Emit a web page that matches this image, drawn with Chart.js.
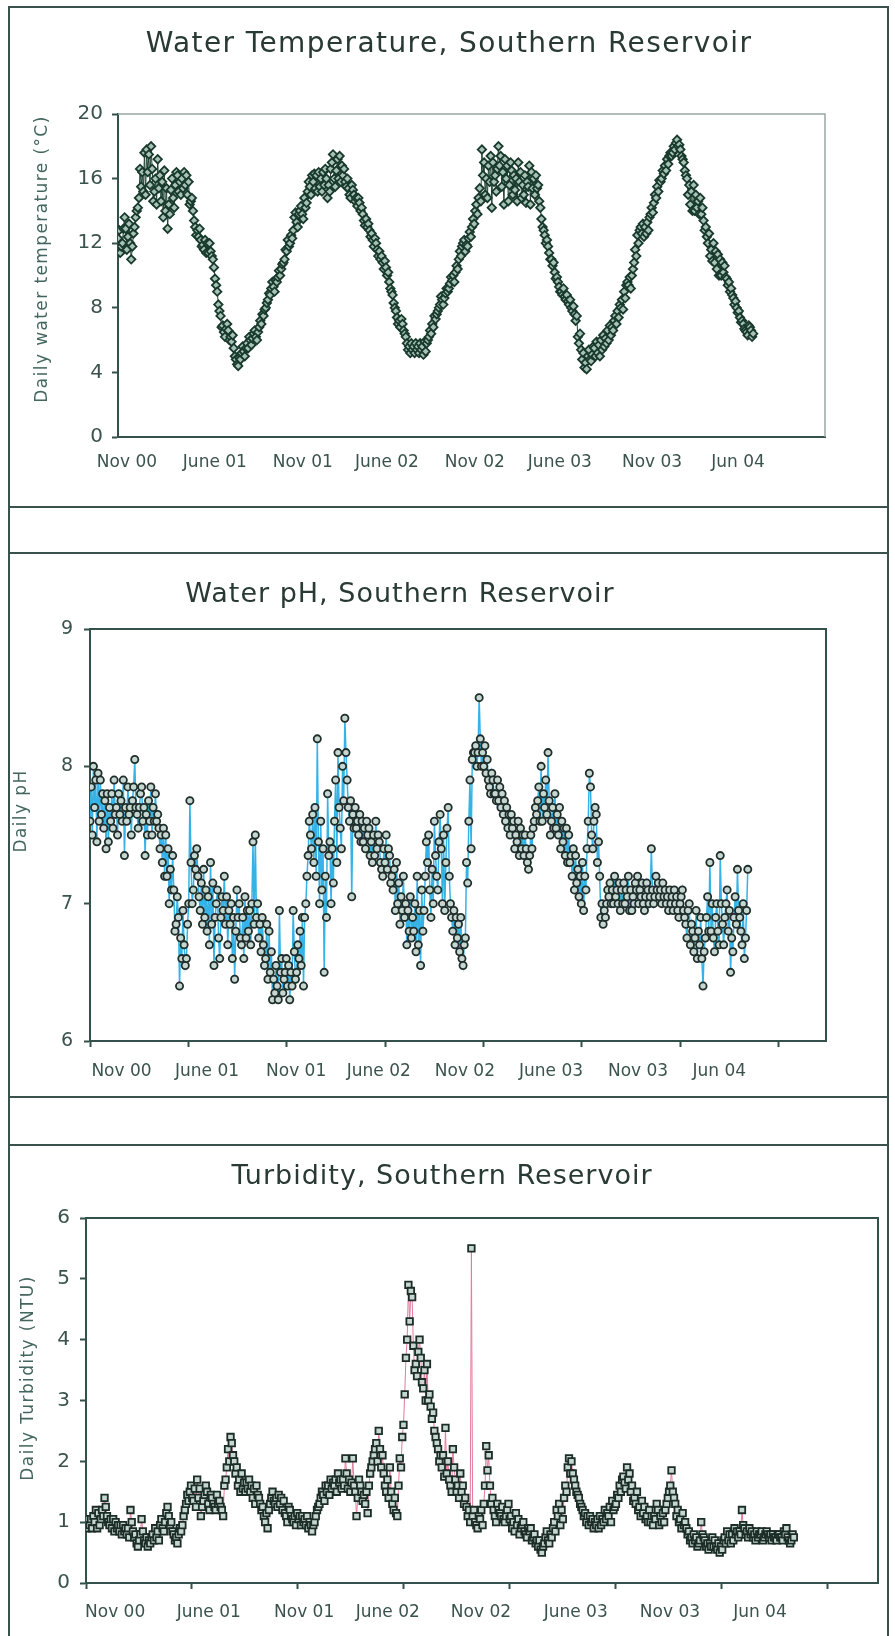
<!DOCTYPE html>
<html>
<head>
<meta charset="utf-8">
<script src="https://cdn.jsdelivr.net/npm/chart.js@4.4.1/dist/chart.umd.min.js"></script>
<style>
  html, body { margin: 0; padding: 0; background: #fff; }
  body { width: 895px; height: 1636px; position: relative; overflow: hidden; }
  .frame { position: absolute; left: 8px; top: 6px; width: 877px; height: 1650px;
           border: 2px solid #3b524c; border-bottom: none; }
  .rule { position: absolute; left: 8px; width: 881px; height: 2px; background: #3b524c; }
  canvas { position: absolute; left: 10px; }
</style>
</head>
<body>
<div class="frame"></div>
<div class="rule" style="top:506px"></div>
<div class="rule" style="top:552px"></div>
<div class="rule" style="top:1096px"></div>
<div class="rule" style="top:1144px"></div>
<canvas id="tempChart" width="877" height="497" style="top:9px"></canvas>
<canvas id="phChart" width="877" height="542" style="top:554px"></canvas>
<canvas id="turbChart" width="877" height="490" style="top:1146px"></canvas>
<script>
// THREE READINGS PER WEEK, DAY 0 = START OF NOV 2000
const DAY_STEP = 7;
const X_MAX = 1496;
const TICK_DAYS = [0, 200, 400, 600, 800, 1000, 1200, 1400];
const MONTH_LABELS = ["Nov 00", "June 01", "Nov 01", "June 02", "Nov 02", "June 03", "Nov 03", "Jun 04"];
const TEMP_LABEL_DAYS = [19, 205, 391, 569, 755, 935, 1130, 1312];
const PH_LABEL_DAYS = [64, 238, 419, 587, 762, 937, 1114, 1279];
const TURB_LABEL_DAYS = [55, 232, 412, 570, 746, 925, 1103, 1273];

const TEMP_TICKS = [0, 4, 8, 12, 16, 20];
const PH_TICKS = [6, 7, 8, 9];
const TURB_TICKS = [0, 1, 2, 3, 4, 5, 6];

// DAILY WATER TEMPERATURE (°C)
const tempWeekly = [
  12.3, 11.8, 13.6, 12.4, 11.0, 13.0, 14.2, 15.5, 17.6, 16.4,
  18.0, 15.2, 17.2, 14.6, 16.5, 12.9, 15.3, 14.2, 16.2, 15.0,
  16.4, 15.0, 14.6, 13.4, 12.8, 12.2, 11.6, 12.0, 11.5, 10.5,
  9.0, 7.5, 6.5, 7.0, 6.2, 5.5, 4.5, 4.8, 5.3, 5.8,
  6.0, 6.4, 6.0, 7.2, 7.5, 8.3, 8.8, 9.3, 9.6, 10.0,
  10.8, 11.5, 12.0, 12.8, 13.3, 14.0, 13.5, 14.5, 15.5, 15.8,
  16.2, 15.5, 16.4, 16.0, 15.2, 17.5, 16.5, 17.4, 16.2, 15.5,
  15.0, 15.3, 14.8, 14.5, 13.8, 13.5, 12.8, 12.2, 12.0, 11.5,
  10.8, 10.5, 9.6, 8.8, 7.8, 7.2, 7.0, 6.2, 5.6, 5.4,
  5.8, 5.2, 5.6, 5.3, 6.2, 7.0, 7.3, 8.0, 8.5, 8.9,
  9.2, 9.7, 10.2, 11.0, 11.8, 11.5, 12.3, 13.0, 14.0, 14.8,
  17.8, 15.0, 16.8, 14.2, 16.2, 18.0, 15.5, 17.2, 14.6, 16.5,
  15.3, 17.0, 14.8, 16.2, 15.5, 16.4, 15.0, 15.6, 13.5, 12.5,
  11.8, 11.0, 10.2, 9.6, 9.0, 8.7, 8.4, 8.0, 7.6, 6.2,
  5.4, 4.3, 5.0, 4.7, 5.5, 5.2, 6.0, 5.6, 6.6, 6.3,
  7.2, 7.8, 8.0, 9.0, 9.6, 9.2, 10.8, 12.5, 13.0, 12.4,
  13.3, 13.8, 14.5, 15.5, 15.8, 16.3, 17.2, 17.6, 18.0, 18.4,
  17.8, 17.0, 16.0, 14.4, 15.6, 14.2, 14.8, 13.4, 12.4, 11.2,
  12.0, 10.4, 11.0, 10.2, 9.8, 9.0, 8.6, 8.0, 7.4, 7.0,
  6.5, 6.8, 6.4
];
const tempMidweek = [
  12.8, 12.0, 12.9, 13.2, 11.8, 13.6, 14.8, 16.4, 15.0, 17.5,
  16.6, 16.0, 15.4, 15.8, 14.0, 14.4, 16.0, 15.6, 15.2, 16.0,
  15.6, 15.8, 14.8, 13.0, 12.4, 11.8, 12.2, 11.4, 11.2, 9.8,
  8.2, 6.8, 6.2, 6.6, 5.9, 5.0, 4.4, 5.2, 5.0, 5.5,
  5.7, 6.6, 6.5, 7.0, 7.9, 8.5, 9.2, 9.0, 9.9, 10.4,
  11.0, 12.2, 12.5, 13.6, 13.0, 14.3, 14.8, 15.2, 15.0, 16.3,
  15.2, 16.0, 15.6, 14.8, 16.6, 16.0, 17.2, 15.8, 16.6, 16.0,
  14.8, 15.0, 14.3, 14.0, 13.4, 13.0, 12.4, 11.8, 11.6, 11.0,
  10.4, 10.0, 9.2, 8.3, 7.4, 6.8, 6.6, 5.8, 5.2, 5.6,
  5.4, 5.8, 5.1, 5.8, 6.6, 6.8, 7.6, 8.2, 8.2, 9.2,
  9.5, 10.0, 10.6, 11.5, 12.0, 11.9, 12.7, 13.5, 14.4, 15.4,
  16.2, 16.0, 15.8, 17.0, 15.2, 16.8, 16.4, 16.0, 15.6, 15.0,
  16.0, 15.8, 15.6, 14.5, 16.8, 15.4, 16.2, 14.6, 13.0, 12.0,
  11.4, 10.6, 9.8, 9.3, 8.8, 8.5, 8.2, 7.8, 7.2, 5.8,
  4.8, 4.6, 5.4, 5.1, 5.0, 5.7, 5.4, 6.1, 6.0, 6.8,
  7.5, 7.4, 8.5, 8.6, 9.4, 10.0, 11.6, 12.0, 12.6, 13.0,
  12.8, 14.2, 15.0, 15.2, 16.0, 16.8, 16.9, 17.4, 17.8, 18.0,
  17.4, 16.5, 15.0, 15.2, 14.0, 14.6, 13.8, 12.8, 12.0, 11.6,
  10.8, 11.3, 10.0, 10.6, 9.4, 9.2, 8.2, 7.7, 7.1, 6.7,
  6.3, 6.6
];
const tempLateweek = [
  11.4, 12.9, 11.6, 12.0, 12.6, 14.0, 16.6, 15.2, 17.8, 15.6,
  14.6, 14.4, 16.2, 13.6, 15.4, 13.8, 14.8, 16.4, 15.8, 15.4,
  16.2, 14.4, 14.0, 12.5, 12.9, 11.9, 11.4, 12.0, 11.0, 9.4,
  7.8, 6.9, 6.7, 6.0, 6.3, 4.8, 4.9, 5.6, 5.5, 6.2,
  6.1, 6.2, 6.8, 7.6, 8.0, 8.9, 9.6, 9.7, 10.3, 10.7,
  11.6, 11.8, 12.3, 13.9, 13.8, 13.8, 14.2, 15.8, 16.2, 15.4,
  16.4, 15.2, 16.6, 15.6, 17.0, 15.5, 16.0, 16.8, 15.8, 15.4,
  15.6, 14.6, 14.8, 14.2, 13.1, 13.2, 12.6, 12.3, 11.2, 11.2,
  10.9, 10.2, 9.0, 8.0, 7.0, 7.3, 6.4, 5.4, 5.8, 5.2,
  5.6, 5.4, 5.9, 6.0, 6.4, 7.5, 7.8, 8.7, 8.6, 9.0,
  9.9, 9.6, 10.4, 11.2, 12.2, 11.8, 12.4, 13.2, 13.8, 14.6,
  17.0, 14.8, 17.4, 15.8, 16.6, 17.4, 14.4, 16.8, 17.0, 16.2,
  14.6, 16.4, 15.0, 15.8, 14.4, 16.0, 15.4, 14.2, 12.8, 12.2,
  11.0, 10.8, 9.9, 9.0, 9.2, 8.8, 8.5, 8.1, 7.5, 6.4,
  5.2, 4.2, 4.8, 5.6, 5.9, 5.0, 6.3, 5.8, 6.9, 6.6,
  7.0, 8.2, 7.9, 9.4, 9.9, 10.4, 11.2, 12.8, 13.2, 12.6,
  13.6, 13.9, 14.8, 15.9, 16.5, 16.5, 17.4, 17.6, 18.2, 18.1,
  17.2, 16.2, 15.6, 14.0, 15.0, 13.8, 14.2, 13.0, 12.6, 10.9,
  11.5, 10.0, 10.8, 9.9, 9.6, 8.8, 8.4, 7.8, 7.2, 6.6,
  6.9, 6.2
];

// DAILY PH
const phWeekly = [
  7.6, 8.0, 7.45, 7.9, 7.55, 7.8, 7.6, 7.9, 7.5, 7.75,
  7.35, 7.85, 7.5, 8.05, 7.55, 7.85, 7.35, 7.75, 7.5, 7.8,
  7.55, 7.3, 7.5, 7.0, 7.35, 6.85, 6.4, 6.95, 6.6, 7.75,
  7.1, 7.4, 6.95, 7.25, 6.8, 7.3, 6.55, 7.1, 6.9, 7.2,
  6.7, 7.0, 6.45, 6.9, 6.7, 7.05, 6.8, 7.0, 7.5, 6.75,
  6.9, 6.6, 6.8, 6.3, 6.55, 6.95, 6.35, 6.6, 6.3, 6.95,
  6.5, 6.8, 6.4, 7.2, 7.5, 7.3, 8.2, 7.6, 6.5, 7.8,
  7.0, 7.6, 8.1, 7.4, 8.35, 7.7, 7.05, 7.7, 7.5, 7.6,
  7.4, 7.55, 7.3, 7.6, 7.45, 7.2, 7.5, 7.35, 7.1, 7.3,
  6.85, 7.2, 6.7, 7.05, 6.8, 7.2, 6.55, 6.95, 7.3, 6.9,
  7.6, 7.1, 7.4, 6.95, 7.7, 6.9, 6.7, 6.85, 6.6, 6.75,
  7.6, 8.05, 8.15, 8.5, 8.1, 7.95, 7.85, 7.9, 7.75, 7.85,
  7.65, 7.7, 7.5, 7.6, 7.45, 7.55, 7.35, 7.3, 7.5, 7.6,
  7.75, 8.0, 7.7, 8.1, 7.6, 7.8, 7.5, 7.6, 7.35, 7.5,
  7.2, 7.35, 7.05, 7.3, 7.1, 7.95, 7.4, 7.65, 7.2, 6.85,
  7.0, 7.15, 7.0, 7.1, 6.95, 7.15, 7.05, 7.1, 7.0, 7.2,
  7.05, 6.95, 7.1, 7.4, 7.05, 7.15, 7.0, 7.1, 6.95, 7.05,
  7.0, 6.9, 7.1, 6.85, 7.0, 6.8, 6.95, 6.7, 6.4, 6.9,
  7.3, 6.75, 7.0, 7.35, 6.7, 7.1, 6.5, 6.9, 7.25, 6.8,
  6.6, 7.25
];
const phMidweek = [
  7.85, 7.7, 7.95, 7.65, 7.75, 7.45, 7.8, 7.65, 7.8, 7.6,
  7.7, 7.65, 7.75, 7.7, 7.7, 7.6, 7.65, 7.6, 7.7, 7.6,
  7.4, 7.55, 7.2, 7.25, 7.1, 7.05, 6.75, 6.7, 6.85, 7.3,
  7.35, 7.2, 7.15, 6.9, 7.05, 6.85, 6.9, 6.75, 7.05, 6.85,
  6.95, 6.6, 6.8, 7.0, 6.9, 6.75, 6.95, 7.45, 6.9, 6.85,
  6.7, 6.85, 6.5, 6.45, 6.4, 6.5, 6.45, 6.4, 6.5, 6.65,
  6.7, 6.55, 6.9, 7.35, 7.4, 7.7, 7.45, 7.1, 7.2, 7.35,
  7.4, 7.9, 7.7, 8.0, 8.1, 7.6, 7.65, 7.55, 7.65, 7.45,
  7.6, 7.35, 7.5, 7.4, 7.3, 7.4, 7.25, 7.15, 7.25, 7.0,
  7.05, 6.9, 6.95, 6.75, 7.0, 6.7, 7.1, 7.2, 7.5, 7.25,
  7.35, 7.45, 7.0, 7.3, 7.2, 6.8, 6.9, 6.65, 6.55, 7.3,
  7.9, 8.1, 8.0, 8.2, 8.0, 8.05, 7.8, 7.8, 7.9, 7.7,
  7.75, 7.55, 7.65, 7.4, 7.6, 7.4, 7.5, 7.25, 7.4, 7.7,
  7.85, 7.6, 7.9, 7.75, 7.7, 7.55, 7.7, 7.45, 7.55, 7.3,
  7.4, 7.15, 7.2, 6.95, 7.4, 7.85, 7.6, 7.3, 6.9, 6.95,
  7.1, 7.0, 7.2, 7.0, 7.1, 7.0, 7.2, 6.95, 7.15, 7.0,
  7.15, 7.05, 7.0, 7.1, 7.2, 7.05, 7.15, 7.0, 7.1, 6.95,
  7.05, 7.0, 6.95, 6.75, 6.7, 6.65, 6.6, 6.9, 6.65, 7.05,
  6.8, 6.65, 6.8, 7.0, 6.9, 6.8, 6.75, 7.05, 6.95, 6.7,
  6.75
];
const phLateweek = [
  7.5, 7.9, 7.6, 7.8, 7.4, 7.7, 7.55, 7.7, 7.65, 7.9,
  7.6, 7.7, 7.85, 7.65, 7.8, 7.7, 7.5, 7.85, 7.6, 7.65,
  7.5, 7.2, 7.4, 7.1, 6.8, 6.9, 6.6, 6.55, 7.0, 7.0,
  7.25, 7.05, 6.85, 7.1, 6.7, 7.15, 7.0, 6.6, 6.95, 7.05,
  6.85, 6.9, 7.1, 6.75, 6.6, 6.95, 6.7, 6.85, 7.0, 6.65,
  6.55, 6.45, 6.65, 6.35, 6.3, 6.6, 6.5, 6.55, 6.4, 6.45,
  6.6, 6.9, 7.0, 7.6, 7.65, 7.2, 7.0, 7.4, 6.9, 7.45,
  7.15, 7.3, 7.55, 7.75, 7.9, 7.75, 7.55, 7.6, 7.45, 7.55,
  7.5, 7.45, 7.35, 7.5, 7.25, 7.3, 7.4, 7.2, 6.95, 7.15,
  6.95, 7.0, 6.8, 6.9, 6.65, 6.95, 6.8, 7.45, 7.1, 7.0,
  7.2, 7.65, 7.5, 7.55, 7.0, 6.95, 6.75, 6.9, 6.7, 7.15,
  7.4, 8.1, 8.1, 8.0, 8.15, 7.9, 7.95, 7.8, 7.75, 7.8,
  7.6, 7.65, 7.55, 7.5, 7.35, 7.5, 7.4, 7.35, 7.55, 7.65,
  7.6, 7.8, 7.65, 7.5, 7.55, 7.65, 7.4, 7.55, 7.3, 7.35,
  7.1, 7.25, 7.0, 7.2, 7.6, 7.5, 7.7, 7.45, 7.0, 6.9,
  7.05, 7.1, 7.05, 7.15, 7.0, 7.1, 6.95, 7.05, 7.1, 7.1,
  7.0, 7.15, 7.05, 7.0, 7.1, 7.1, 7.05, 7.05, 7.0, 7.1,
  6.95, 7.05, 6.9, 6.95, 6.85, 6.75, 6.8, 6.6, 6.75, 6.8,
  7.0, 6.9, 6.7, 6.85, 7.0, 6.95, 6.65, 6.85, 6.9, 7.0,
  6.95
];

// DAILY TURBIDITY (NTU)
const turbWeekly = [
  1.0, 0.95, 1.1, 0.9, 1.05, 1.4, 1.0, 0.9, 1.0, 0.85,
  0.95, 0.8, 1.2, 0.75, 0.6, 1.05, 0.65, 0.7, 0.8, 0.75,
  0.95, 0.85, 1.25, 1.0, 0.7, 0.8, 0.95, 1.3, 1.5, 1.35,
  1.7, 1.1, 1.45, 1.3, 1.4, 1.2, 1.35, 1.1, 1.9, 2.4,
  2.0, 1.6, 1.8, 1.5, 1.7, 1.4, 1.6, 1.3, 1.1, 0.9,
  1.4, 1.3, 1.45, 1.2, 1.1, 1.2, 1.0, 1.15, 0.95, 1.05,
  0.9, 0.85, 1.1, 1.3, 1.45, 1.5, 1.7, 1.6, 1.8, 1.55,
  2.05, 1.7, 2.05, 1.1, 1.6, 1.45, 1.15, 1.9, 2.2, 2.5,
  2.1, 1.5, 1.9, 1.2, 1.1, 1.9, 3.1, 4.9, 4.7, 3.6,
  4.0, 3.2, 3.6, 2.9, 2.5, 2.2, 1.9, 2.55, 1.7, 2.2,
  1.5, 1.8, 1.3, 1.1, 5.5, 1.0, 1.1, 0.95, 2.25, 1.6,
  1.2, 1.3, 1.1, 1.0, 1.3, 0.9, 1.15, 0.8, 1.0, 0.75,
  0.9, 0.8, 0.6, 0.5, 0.75, 0.65, 0.9, 1.2, 0.95, 1.4,
  1.9, 2.0, 1.6, 1.4, 1.2, 1.0, 1.1, 0.9, 1.05, 0.95,
  1.2, 1.1, 1.35, 1.3, 1.6, 1.75, 1.9, 1.5, 1.4, 1.2,
  1.35, 1.05, 1.2, 0.95, 1.3, 1.1, 1.0, 1.4, 1.85, 1.3,
  1.0, 1.15, 0.9, 0.7, 0.8, 0.6, 1.0, 0.7, 0.55, 0.75,
  0.6, 0.5, 0.7, 0.85, 0.65, 0.9, 0.75, 1.2, 0.8, 0.9,
  0.75, 0.85, 0.8, 0.75, 0.8, 0.7, 0.75, 0.8, 0.7, 0.9,
  0.65, 0.75
];
const turbMidweek = [
  0.9, 1.05, 1.0, 1.15, 1.2, 1.25, 0.95, 1.05, 0.9, 0.95,
  0.85, 0.9, 1.0, 0.8, 0.7, 0.85, 0.75, 0.65, 0.7, 0.85,
  1.05, 1.0, 1.1, 0.85, 0.75, 0.9, 1.1, 1.45, 1.6, 1.55,
  1.4, 1.25, 1.6, 1.2, 1.3, 1.45, 1.25, 1.6, 2.2, 2.3,
  1.8, 1.7, 1.55, 1.65, 1.5, 1.55, 1.45, 1.2, 1.0, 1.2,
  1.5, 1.4, 1.3, 1.35, 1.0, 1.1, 1.1, 1.05, 1.1, 0.95,
  1.0, 0.95, 1.2, 1.4, 1.35, 1.6, 1.55, 1.7, 1.65, 1.7,
  1.8, 1.5, 1.6, 1.4, 1.5, 1.3, 1.6, 2.0, 2.3, 2.2,
  1.8, 1.7, 1.5, 1.4, 1.6, 2.4, 3.7, 4.3, 3.9, 3.4,
  3.7, 3.5, 3.0, 2.7, 2.4, 2.0, 2.1, 1.8, 1.6, 1.9,
  1.6, 1.5, 1.4, 1.2, 1.1, 0.95, 1.05, 1.3, 1.85, 1.3,
  1.1, 1.2, 1.25, 1.1, 1.05, 1.0, 0.95, 0.9, 0.85, 0.9,
  0.7, 0.65, 0.7, 0.6, 0.85, 0.8, 1.0, 1.1, 1.2, 1.6,
  2.05, 1.8, 1.5, 1.3, 1.1, 1.1, 1.0, 1.0, 0.9, 1.05,
  1.05, 1.25, 1.2, 1.45, 1.5, 1.65, 1.7, 1.6, 1.3, 1.25,
  1.15, 1.1, 1.0, 1.1, 1.2, 1.0, 1.2, 1.5, 1.5, 1.1,
  1.05, 0.95, 0.8, 0.75, 0.7, 0.65, 0.8, 0.6, 0.65, 0.6,
  0.55, 0.6, 0.75, 0.7, 0.8, 0.8, 0.85, 0.95, 0.85, 0.8,
  0.8, 0.75, 0.85, 0.8, 0.75, 0.8, 0.7, 0.75, 0.85, 0.75,
  0.7
];
const turbLateweek = [
  1.05, 0.9, 1.2, 0.95, 1.1, 1.1, 1.05, 0.85, 0.95, 0.8,
  0.9, 0.75, 0.85, 0.65, 0.8, 0.7, 0.6, 0.75, 0.9, 0.7,
  0.9, 1.15, 0.95, 0.8, 0.65, 0.85, 1.2, 1.35, 1.4, 1.25,
  1.55, 1.35, 1.5, 1.45, 1.25, 1.3, 1.2, 1.7, 2.0, 2.1,
  1.9, 1.5, 1.65, 1.55, 1.6, 1.3, 1.4, 1.25, 1.15, 1.3,
  1.35, 1.25, 1.4, 1.15, 1.25, 1.05, 0.95, 1.1, 1.0, 1.1,
  0.95, 1.0, 1.25, 1.5, 1.6, 1.45, 1.65, 1.5, 1.7, 1.6,
  1.55, 1.65, 1.5, 1.7, 1.35, 1.5, 1.8, 2.1, 2.0, 1.9,
  1.6, 1.4, 1.3, 1.15, 2.05, 2.6, 4.0, 4.8, 3.5, 3.8,
  3.3, 3.0, 3.1, 2.8, 2.3, 2.1, 1.75, 2.0, 1.5, 1.7,
  1.4, 1.6, 1.25, 1.0, 1.2, 0.9, 1.2, 1.6, 2.1, 1.4,
  1.0, 1.15, 1.05, 1.2, 1.1, 0.85, 1.05, 0.95, 0.8, 0.85,
  0.75, 0.7, 0.55, 0.65, 0.7, 0.75, 0.85, 1.3, 1.05, 1.5,
  1.8, 1.7, 1.45, 1.25, 1.15, 0.95, 1.05, 0.95, 1.1, 1.0,
  1.15, 1.0, 1.25, 1.4, 1.7, 1.55, 1.8, 1.35, 1.5, 1.1,
  1.25, 1.0, 1.1, 1.05, 0.95, 1.15, 1.3, 1.6, 1.4, 1.2,
  0.9, 1.0, 0.85, 0.65, 0.75, 0.7, 0.75, 0.65, 0.6, 0.7,
  0.65, 0.55, 0.65, 0.8, 0.7, 0.85, 0.8, 0.9, 0.75, 0.85,
  0.7, 0.8, 0.7, 0.85, 0.8, 0.75, 0.8, 0.75, 0.8, 0.7,
  0.8
];

const FONT = "'DejaVu Sans', sans-serif";
const DARK = "#34504a";
const LABEL_COLOR = "#3b534d";
const TITLE_COLOR = "#293a35";
const AXIS_TITLE_COLOR = "#43675e";
const CLEAR = "rgba(0,0,0,0)";

// TITLE, Y TITLE AND TOP/RIGHT FRAME OF THE PLOT
const panelDecor = {
  id: "panelDecor",
  beforeDatasetsDraw(chart, args, opts) {
    const { ctx, chartArea: a } = chart;
    ctx.save();
    ctx.strokeStyle = opts.frameColor;
    ctx.lineWidth = opts.frameWidth;
    ctx.beginPath();
    ctx.moveTo(a.left, a.top);
    ctx.lineTo(a.right, a.top);
    ctx.lineTo(a.right, a.bottom);
    ctx.stroke();
    ctx.restore();
  },
  afterDraw(chart, args, opts) {
    const ctx = chart.ctx;
    ctx.save();
    ctx.fillStyle = TITLE_COLOR;
    ctx.font = opts.titleSize + "px " + FONT;
    ctx.letterSpacing = opts.titleSpacing;
    ctx.textAlign = "center";
    ctx.textBaseline = "middle";
    ctx.fillText(opts.title, opts.titleX, opts.titleY);
    ctx.translate(opts.axisX, opts.axisY);
    ctx.rotate(-Math.PI / 2);
    ctx.font = "17px " + FONT;
    ctx.letterSpacing = "1.4px";
    ctx.fillStyle = AXIS_TITLE_COLOR;
    ctx.fillText(opts.axisTitle, 0, 0);
    ctx.restore();
  },
};

function buildXTicks(labelDays, withMarks) {
  const ticks = [{ value: 0, mark: withMarks, text: "" }];
  if (withMarks) TICK_DAYS.slice(1).forEach((d) => ticks.push({ value: d, mark: true, text: "" }));
  labelDays.forEach((d, i) => ticks.push({ value: d, mark: false, text: MONTH_LABELS[i] }));
  return ticks;
}

// MERGE THE THREE READINGS OF EACH WEEK IN DATE ORDER
function toPoints(weekly, midweek, lateweek) {
  const pts = [];
  weekly.forEach((v, i) => {
    const day = i * DAY_STEP;
    pts.push({ x: day, y: v });
    if (i < midweek.length) pts.push({ x: day + DAY_STEP / 3, y: midweek[i] });
    if (i < lateweek.length) pts.push({ x: day + (2 * DAY_STEP) / 3, y: lateweek[i] });
  });
  return pts;
}

// BUILD ONE PANEL
function makePanel(id, p) {
  return new Chart(document.getElementById(id), {
    type: "line",
    data: {
      datasets: [
        {
          data: p.points,
          borderColor: p.lineColor,
          borderWidth: p.lineWidth,
          pointStyle: p.pointStyle,
          pointRadius: p.pointRadius,
          pointBorderColor: p.markColor,
          pointBackgroundColor: p.markFill,
          pointBorderWidth: 1.8,
          tension: 0,
          fill: false,
        },
      ],
    },
    options: {
      responsive: false,
      animation: false,
      events: [],
      layout: { padding: p.padding },
      plugins: {
        legend: { display: false },
        tooltip: { enabled: false },
        panelDecor: p.decor,
      },
      scales: {
        x: {
          type: "linear",
          min: 0,
          max: X_MAX,
          border: { color: DARK, width: 2 },
          grid: {
            drawOnChartArea: false,
            tickLength: 6,
            tickWidth: 2,
            tickColor: (c) => (c.tick && c.tick.mark ? DARK : CLEAR),
          },
          ticks: {
            autoSkip: false,
            maxRotation: 0,
            minRotation: 0,
            padding: p.xPad,
            color: LABEL_COLOR,
            font: { family: FONT, size: 17 },
            callback: (value, index, ticks) => ticks[index].text,
          },
          afterBuildTicks: (scale) => {
            scale.ticks = buildXTicks(p.labelDays, p.tickMarks);
          },
          afterFit: (scale) => {
            scale.height = 40;
          },
        },
        y: {
          min: p.yTicks[0],
          max: p.yTicks[p.yTicks.length - 1],
          border: { color: DARK, width: 2 },
          grid: { drawOnChartArea: false, tickLength: 6, tickWidth: 2, tickColor: DARK },
          ticks: {
            padding: p.yPad,
            color: LABEL_COLOR,
            font: { family: FONT, size: p.yFont },
          },
          afterBuildTicks: (scale) => {
            scale.ticks = p.yTicks.map((v) => ({ value: v }));
          },
          afterFit: (scale) => {
            scale.width = p.yWidth;
          },
        },
      },
    },
    plugins: [panelDecor],
  });
}

makePanel("tempChart", {
  points: toPoints(tempWeekly, tempMidweek, tempLateweek),
  labelDays: TEMP_LABEL_DAYS,
  tickMarks: false,
  yTicks: TEMP_TICKS,
  yWidth: 108,
  yPad: 9,
  yFont: 20,
  xPad: 9,
  padding: { top: 105, right: 62, bottom: 29, left: 0 },
  lineColor: "#1f4536",
  lineWidth: 1,
  pointStyle: "rectRot",
  pointRadius: 4.2,
  markColor: "#183a2d",
  markFill: "#a9c2b6",
  decor: {
    title: "Water Temperature, Southern Reservoir",
    titleSize: 28, titleSpacing: "1.4px", titleX: 439, titleY: 36,
    axisTitle: "Daily water temperature (°C)", axisX: 33, axisY: 250,
    frameColor: "#9aa8a4", frameWidth: 1.5,
  },
});

makePanel("phChart", {
  points: toPoints(phWeekly, phMidweek, phLateweek),
  labelDays: PH_LABEL_DAYS,
  tickMarks: true,
  yTicks: PH_TICKS,
  yWidth: 80,
  yPad: 11,
  yFont: 19,
  xPad: 14,
  padding: { top: 75, right: 61, bottom: 15, left: 0 },
  lineColor: "#35b3e6",
  lineWidth: 1.5,
  pointStyle: "circle",
  pointRadius: 3.6,
  markColor: "#1f2e2a",
  markFill: "#c6d6d1",
  decor: {
    title: "Water pH, Southern Reservoir",
    titleSize: 27, titleSpacing: "1px", titleX: 390, titleY: 41,
    axisTitle: "Daily pH", axisX: 12, axisY: 257,
    frameColor: DARK, frameWidth: 2,
  },
});

makePanel("turbChart", {
  points: toPoints(turbWeekly, turbMidweek, turbLateweek),
  labelDays: TURB_LABEL_DAYS,
  tickMarks: true,
  yTicks: TURB_TICKS,
  yWidth: 76,
  yPad: 10,
  yFont: 20,
  xPad: 13,
  padding: { top: 72, right: 9, bottom: 13, left: 0 },
  lineColor: "#e4799a",
  lineWidth: 1,
  pointStyle: "rect",
  pointRadius: 4.6,
  markColor: "#1c2d28",
  markFill: "#c6d6d1",
  decor: {
    title: "Turbidity, Southern Reservoir",
    titleSize: 27, titleSpacing: "1px", titleX: 432, titleY: 31,
    axisTitle: "Daily Turbidity (NTU)", axisX: 19, axisY: 232,
    frameColor: DARK, frameWidth: 2,
  },
});
</script>
</body>
</html>
